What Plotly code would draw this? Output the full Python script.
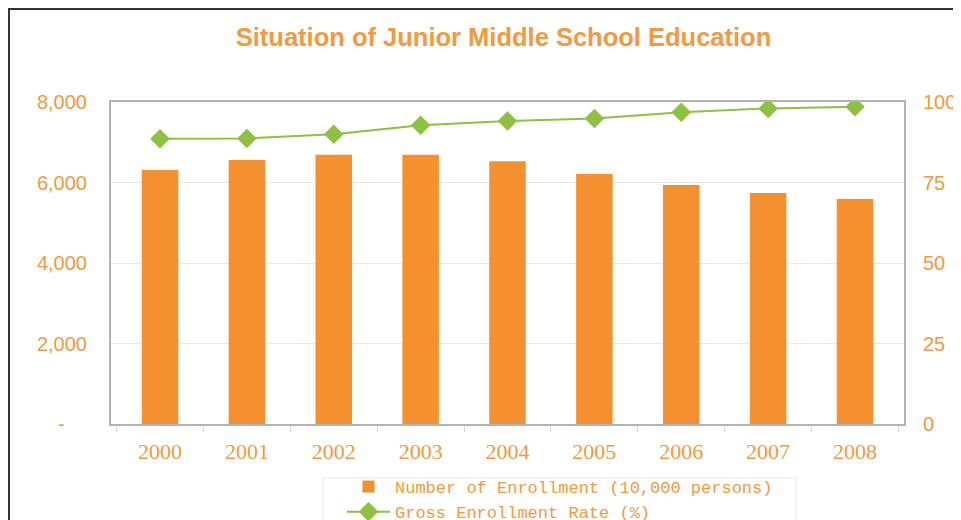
import plotly.graph_objects as go

years = ["2000", "2001", "2002", "2003", "2004", "2005", "2006", "2007", "2008"]
enrollment = [6310, 6560, 6690, 6690, 6530, 6210, 5940, 5740, 5590]
gross_rate = [88.6, 88.7, 90.0, 92.8, 94.1, 94.9, 96.8, 98.0, 98.5]

left_ticks = [0, 2000, 4000, 6000, 8000]
left_labels = ["-\u00a0\u00a0\u00a0\u00a0", "2,000", "4,000", "6,000", "8,000"]
right_ticks = [0, 25, 50, 75, 100]
right_labels = ["0", "25", "50", "75", "100"]

ORANGE = "#F4902F"
TEXT = "#F39A3E"
GREEN = "#8DC13F"
AXIS = "#B3B3B3"

# the page has an 8px body margin; layout numbers below are in figure pixels
fig = go.Figure()
fig.add_trace(go.Bar(
    x=years, y=enrollment, name="Number of Enrollment (10,000 persons)",
    marker=dict(color=ORANGE, line=dict(width=0)), yaxis="y",
))
fig.add_trace(go.Scatter(
    x=years, y=gross_rate, name="Gross Enrollment Rate (%)", mode="lines+markers",
    line=dict(color=GREEN, width=2),
    marker=dict(symbol="diamond", size=15, color=GREEN),
    yaxis="y2",
))

fig.update_layout(
    width=961, height=520,
    margin=dict(l=103, r=65, t=94, b=104, autoexpand=False),
    paper_bgcolor="white", plot_bgcolor="white",
    bargap=0.58,
    title=dict(text="<b>Situation of Junior Middle School Education</b>",
               x=0.495, xref="paper", xanchor="center",
               y=1 - 29 / 520, yref="container", yanchor="middle",
               font=dict(family="Liberation Sans, Arial", size=25.5, color=TEXT)),
    xaxis=dict(
        showline=True, linecolor=AXIS, linewidth=2, mirror=True,
        ticks="outside", tickson="boundaries", ticklen=6, tickcolor="#D9D9D9",
        tickfont=dict(family="Liberation Serif, serif", size=22, color=TEXT),
        ticklabelstandoff=7,
        showgrid=False, automargin=False,
    ),
    yaxis=dict(
        range=[0, 8000], tickvals=left_ticks, ticktext=left_labels,
        showline=True, linecolor=AXIS, linewidth=2,
        showgrid=True, gridcolor="#E8E8E8", gridwidth=1, zeroline=False,
        ticks="", ticklabelstandoff=18, automargin=False,
        tickfont=dict(family="Liberation Sans, Arial", size=20, color=TEXT),
    ),
    yaxis2=dict(
        range=[0, 100], tickvals=right_ticks, ticktext=right_labels,
        overlaying="y", side="right",
        showline=True, linecolor=AXIS, linewidth=2,
        showgrid=False, zeroline=False, ticks="", ticklabelstandoff=13,
        automargin=False,
        tickfont=dict(family="Liberation Sans, Arial", size=20, color=TEXT),
    ),
    showlegend=True,
    legend=dict(
        x=334 / 961, xref="container", xanchor="left",
        y=1 - 461 / 520, yref="container", yanchor="top",
        orientation="v", traceorder="normal",
        font=dict(family="Liberation Mono, monospace", size=17, color=TEXT),
        borderwidth=0, bgcolor="rgba(0,0,0,0)",
        tracegroupgap=0, itemwidth=43,
    ),
    shapes=[
        # outer chart border (left and top edges visible)
        dict(type="line", xref="paper", yref="paper", x0=-0.1286, x1=-0.1286, y0=-0.4, y1=1.295,
             line=dict(color="#333333", width=2)),
        dict(type="line", xref="paper", yref="paper", x0=-0.135, x1=1.1, y0=1.2888, y1=1.2888,
             line=dict(color="#333333", width=2)),
        # legend frame
        dict(type="rect", xref="paper", yref="paper", x0=0.2673, x1=0.8638, y0=-0.1677, y1=-0.4,
             line=dict(color="#E6E6E6", width=1), fillcolor="rgba(0,0,0,0)", layer="below"),
    ],
)

fig.write_html("out.html")
